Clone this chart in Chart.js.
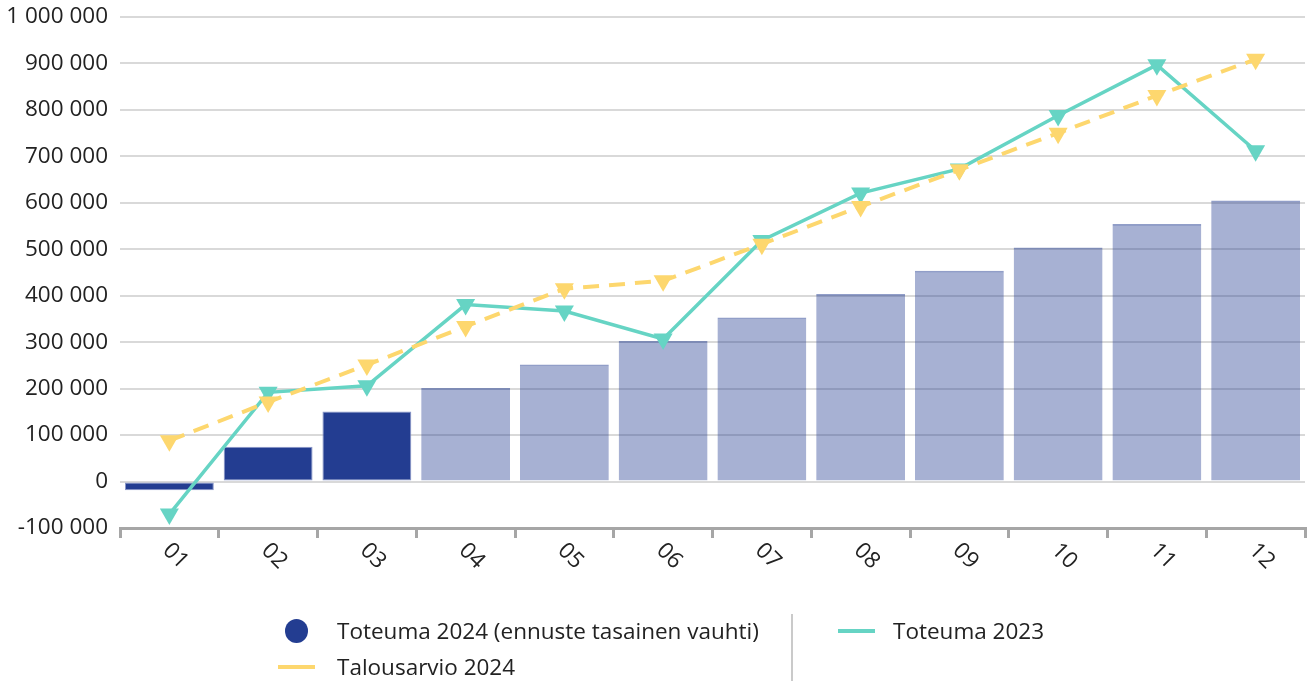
<!DOCTYPE html>
<html>
<head>
<meta charset="utf-8">
<script src="https://cdn.jsdelivr.net/npm/chart.js@4.4.1/dist/chart.umd.min.js"></script>
<style>
  body { margin: 0; background: #fff; font-family: "Open Sans", sans-serif; }
  #wrap { position: relative; width: 1309px; height: 681px; }
  .lg { position: absolute; font-size: 22.5px; color: #222; line-height: 28px; white-space: nowrap; }
  .sw { position: absolute; }
</style>
</head>
<body>
<div id="wrap">
  <canvas id="chart" width="1309" height="681"></canvas>

  <div class="sw" style="left:285px;top:619px;width:23px;height:24px;border-radius:50%;background:#233d91"></div>
  <div class="lg" style="left:337px;top:617px">Toteuma 2024 (ennuste tasainen vauhti)</div>
  <div class="sw" style="left:278px;top:665px;width:37px;height:4px;background:#fdd76e"></div>
  <div class="lg" style="left:337px;top:653px">Talousarvio 2024</div>
  <div class="sw" style="left:791px;top:614px;width:2px;height:67px;background:#cacaca"></div>
  <div class="sw" style="left:838px;top:629px;width:37px;height:4px;background:#66d4c4"></div>
  <div class="lg" style="left:893px;top:617px">Toteuma 2023</div>
</div>

<script>
// months
const months = ["01", "02", "03", "04", "05", "06", "07", "08", "09", "10", "11", "12"];

// Toteuma 2024 (first 3 actual, rest forecast)
const toteuma2024 = [-19000, 75000, 151000, 201500, 252000, 302500, 353000, 403500, 454000, 504000, 554500, 605000];
const actualMonths = 3;

// Toteuma 2023
const toteuma2023 = [-70000, 192000, 206000, 381000, 367000, 307000, 519000, 621000, 673000, 788000, 897000, 712000];

// Talousarvio 2024
const talousarvio2024 = [88000, 171000, 251000, 334000, 415000, 432000, 511000, 592000, 671000, 750000, 831000, 909000];

const yTicks = [-100000, 0, 100000, 200000, 300000, 400000, 500000, 600000, 700000, 800000, 900000, 1000000];

const dark = "#233d91";
const light = "rgba(35,61,145,0.4)";
const teal = "#66d4c4";
const yellow = "#fdd76e";

function fmt(v) {
    return String(v).replace(/\B(?=(\d{3})+(?!\d))/g, " ");
}

// rotated month labels (clockwise)
const monthLabels = {
    id: "monthLabels",
    afterDraw(chart) {
        const ctx = chart.ctx;
        const xs = chart.scales.x;
        ctx.save();
        ctx.font = "22.5px 'Open Sans'";
        ctx.fillStyle = "#222";
        ctx.textAlign = "left";
        ctx.textBaseline = "middle";
        months.forEach((m, i) => {
            const x = xs.getPixelForValue(i);
            ctx.save();
            ctx.translate(x - 3, 547);
            ctx.rotate(Math.PI / 4);
            ctx.fillText(m, 0, 0);
            ctx.restore();
        });
        ctx.restore();
    }
};

const ctx = document.getElementById("chart").getContext("2d");

new Chart(ctx, {
    data: {
        labels: months,
        datasets: [
            {
                type: "line",
                label: "Talousarvio 2024",
                data: talousarvio2024,
                borderColor: yellow,
                backgroundColor: yellow,
                borderWidth: 4,
                borderDash: [16, 10],
                pointStyle: "triangle",
                rotation: 180,
                pointRadius: 11,
                pointBorderWidth: 0,
                tension: 0,
                order: 1
            },
            {
                type: "line",
                label: "Toteuma 2023",
                data: toteuma2023,
                borderColor: teal,
                backgroundColor: teal,
                borderWidth: 3.5,
                pointStyle: "triangle",
                rotation: 180,
                pointRadius: 11,
                pointBorderWidth: 0,
                tension: 0,
                order: 2
            },
            {
                type: "bar",
                label: "Toteuma 2024 (ennuste tasainen vauhti)",
                data: toteuma2024,
                backgroundColor: toteuma2024.map((v, i) => i < actualMonths ? dark : light),
                borderColor: toteuma2024.map((v, i) => i < actualMonths ? "#8a97c9" : "rgba(35,61,145,0.5)"),
                borderWidth: toteuma2024.map((v, i) => i < actualMonths ? 1 : { top: 2, left: 0, right: 0, bottom: 0 }),
                borderSkipped: false,
                barPercentage: 0.9,
                categoryPercentage: 1.0,
                order: 3
            }
        ]
    },
    options: {
        responsive: false,
        animation: false,
        layout: { autoPadding: false, padding: { top: 17, right: 4, left: 0, bottom: 0 } },
        plugins: {
            legend: { display: false },
            tooltip: { enabled: false }
        },
        scales: {
            x: {
                offset: true,
                grid: {
                    offset: true,
                    drawOnChartArea: false,
                    drawTicks: true,
                    tickLength: 10,
                    color: "#a6a6a6",
                    lineWidth: 3
                },
                border: { display: true, color: "#a6a6a6", width: 3 },
                ticks: { display: false },
                afterFit(scale) {
                    scale.height = 153;
                    scale.paddingLeft = 0;
                    scale.paddingRight = 0;
                }
            },
            y: {
                min: -100000,
                max: 1000000,
                afterBuildTicks(scale) {
                    scale.ticks = yTicks.map(v => ({ value: v }));
                },
                grid: { color: "#d9d9d9", lineWidth: 2, drawTicks: false },
                border: { display: false },
                ticks: {
                    padding: 12,
                    color: "#222",
                    font: { family: "'Open Sans'", size: 22.5 },
                    callback: v => fmt(v)
                },
                afterFit(scale) {
                    scale.width = 120;
                    scale.paddingTop = 0;
                    scale.paddingBottom = 0;
                }
            }
        }
    },
    plugins: [monthLabels]
});
</script>
</body>
</html>
